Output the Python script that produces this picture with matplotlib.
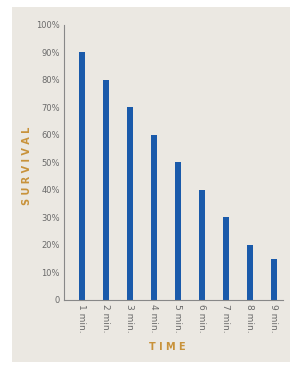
import matplotlib.pyplot as plt
from matplotlib.patches import Rectangle

minutes = ['1 min.', '2 min.', '3 min.', '4 min.', '5 min.', '6 min.', '7 min.', '8 min.', '9 min.']
survival = [90, 80, 70, 60, 50, 40, 30, 20, 15]
yticks = [0, 10, 20, 30, 40, 50, 60, 70, 80, 90, 100]
ylabels = ['0'] + ['%d%%' % v for v in yticks[1:]]

fig = plt.figure(figsize=(2.99, 3.73), dpi=100)
fig.patch.set_facecolor('white')

# paper background
fig.patches.append(Rectangle((0.04, 0.03), 0.93, 0.95, transform=fig.transFigure,
                             facecolor='#ebe8e2', edgecolor='none', zorder=0))

ax = fig.add_axes([0.214, 0.196, 0.732, 0.737])
ax.set_zorder(2)
ax.set_facecolor('none')
x = range(1, len(survival) + 1)
ax.bar(x, survival, width=0.27, color='#1a5aaa')

ax.set_xlim(0.25, 9.375)
ax.set_ylim(0, 100)
ax.set_yticks(yticks)
ax.set_yticklabels(ylabels, fontsize=6, color='#6a6a6a')
ax.set_xticks(list(x))
ax.set_xticklabels(minutes, rotation=-90, fontsize=6.5, color='#6a6a6a', va='top')
ax.tick_params(length=0, pad=3)

for s in ['top', 'right']:
    ax.spines[s].set_visible(False)
for s in ['left', 'bottom']:
    ax.spines[s].set_color('#888888')
    ax.spines[s].set_linewidth(0.8)

fig.text(0.56, 0.07, 'T I M E', ha='center', va='center', fontsize=7,
         fontweight='bold', color='#c8923a', zorder=3)
fig.text(0.09, 0.555, 'S U R V I V A L', ha='center', va='center', rotation=90,
         fontsize=7, fontweight='bold', color='#c8923a', zorder=3)

fig.savefig('out.png', dpi=100)
